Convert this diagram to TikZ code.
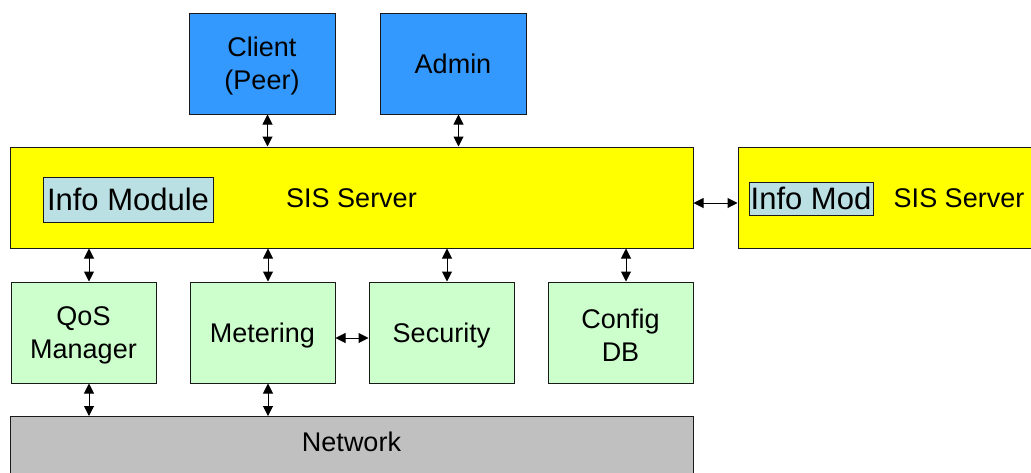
\documentclass[tikz,border=0pt]{standalone}
\usepackage{fontspec}
\setmainfont{Liberation Sans}
\usetikzlibrary{arrows.meta,calc}
\definecolor{cblue}{HTML}{3399FF}
\definecolor{cyellow}{HTML}{FFFF00}
\definecolor{cgreen}{HTML}{CCFFCC}
\definecolor{cinfo}{HTML}{BBE0E3}
\definecolor{cgray}{HTML}{C0C0C0}
\newcommand\toprl{\rule{0pt}{24pt}}
\begin{document}
\begin{tikzpicture}[x=1pt,y=-1pt,
  box/.style={draw=black!90, line width=1pt, inner sep=0pt, align=center,
    font=\fontsize{27}{33}\selectfont},
  oneline/.style={text height=19.3pt, text depth=0pt},
  bigbox/.style={box, minimum width=146pt, minimum height=101pt},
  bluebox/.style={bigbox, fill=cblue},
  greenbox/.style={bigbox, fill=cgreen, minimum width=145pt},
  serverbox/.style={box, oneline, fill=cyellow, minimum height=101pt},
  infobox/.style={box, oneline, fill=cinfo, font=\fontsize{31}{36}\selectfont,
    text height=22.2pt},
  arr/.style={{Triangle[length=10pt,width=10pt]}-{Triangle[length=10pt,width=10pt]},
    line width=1pt, black},
]
\useasboundingbox (0,0) rectangle (1031,472);

% top boxes
\node[bluebox] (client) at (262,63.5) {\toprl Client\\(Peer)};
\node[bluebox, oneline] (admin) at (453,63.5) {Admin};

% servers
\node[serverbox, minimum width=683pt] (sis) at (351.5,197.5) {SIS Server};
\node[infobox, minimum width=170pt, minimum height=45pt] (infomodule) at (128,199.5) {Info Module};
\node[serverbox, minimum width=442pt] (sis2) at (959,197.5) {SIS Server};
\node[infobox, minimum width=124pt, minimum height=33pt] (infomod) at (811,198.5) {Info Mod};

% modules
\node[greenbox] (qos) at (83.5,332.5) {\toprl QoS\\Manager};
\node[greenbox, oneline] (metering) at (262.5,332.5) {Metering};
\node[greenbox, oneline] (security) at (441.5,332.5) {Security};
\node[greenbox] (config) at (620.5,332.5) {\toprl Config\\DB};

% network
\node[box, fill=cgray, anchor=north, minimum width=683pt,
  text height=35pt, text depth=30pt] (network) at (351.5,416) {Network};

% connectors
\draw[arr] ($(client.south)+(5.5,0)$) -- ($(client.south |- sis.north)+(5.5,0)$);
\draw[arr] ($(admin.south)+(5.5,0)$) -- ($(admin.south |- sis.north)+(5.5,0)$);
\draw[arr] ($(qos.north |- sis.south)+(5.5,0)$) -- ($(qos.north)+(5.5,0)$);
\draw[arr] ($(metering.north |- sis.south)+(5.5,0)$) -- ($(metering.north)+(5.5,0)$);
\draw[arr] ($(security.north |- sis.south)+(5.5,0)$) -- ($(security.north)+(5.5,0)$);
\draw[arr] ($(config.north |- sis.south)+(5.5,0)$) -- ($(config.north)+(5.5,0)$);
\draw[arr] ($(qos.south)+(5.5,0)$) -- ($(qos.south |- network.north)+(5.5,0)$);
\draw[arr] ($(metering.south)+(5.5,0)$) -- ($(metering.south |- network.north)+(5.5,0)$);
\draw[arr] ($(sis.east)+(0,5.5)$) -- ($(sis.east -| sis2.west)+(0,5.5)$);
\draw[arr] ($(metering.east)+(0,5.5)$) -- ($(security.west)+(0,5.5)$);
\end{tikzpicture}
\end{document}
